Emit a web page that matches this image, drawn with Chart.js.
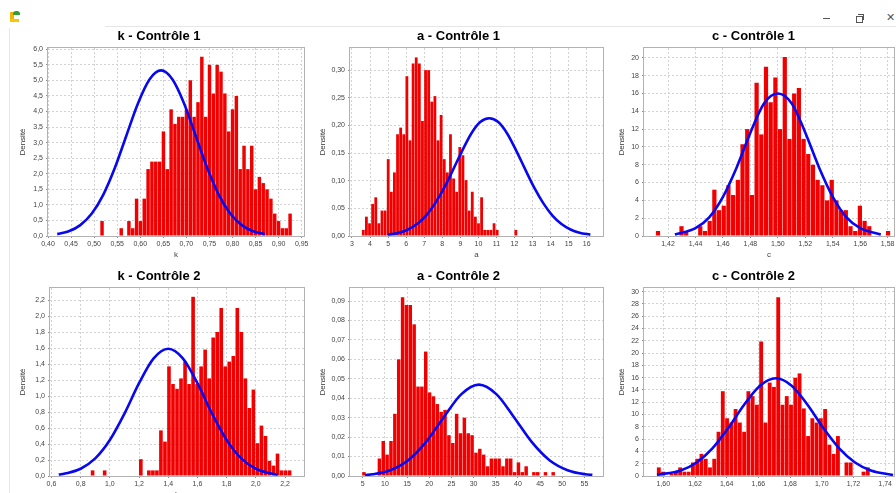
<!DOCTYPE html>
<html><head><meta charset="utf-8">
<script src="https://cdn.jsdelivr.net/npm/chart.js@4.4.1/dist/chart.umd.min.js"></script>
<style>
html,body{margin:0;padding:0;background:#fff;width:896px;height:493px;overflow:hidden;position:relative;font-family:"Liberation Sans",Arial,sans-serif}
canvas{position:absolute}
.ch{position:absolute}
</style></head><body>
<div class="ch" style="left:105px;top:26px;width:791px;height:1px;background:#e6e6e6"></div>
<div class="ch" style="left:9px;top:28px;width:1px;height:465px;background:#e6e6e6"></div>
<div class="ch" style="left:10px;top:12px;width:4px;height:10px;background:#f2b400"></div>
<div class="ch" style="left:10px;top:19px;width:9px;height:3px;background:#f5c800"></div>
<div class="ch" style="left:13px;top:11px;width:7px;height:4px;background:#2e9e3a;border-radius:3px 3px 0 0"></div>
<div class="ch" style="left:823px;top:18px;width:7px;height:1px;background:#555"></div>
<div class="ch" style="left:856px;top:16px;width:5px;height:5px;border:1px solid #555"></div>
<div class="ch" style="left:858px;top:14px;width:5px;height:5px;border-top:1px solid #555;border-right:1px solid #555"></div>
<div class="ch" style="left:886px;top:11px;font:11px 'DejaVu Sans';color:#555">✕</div>
<script>
// ---------- data ----------
const k1Range = [0.513, 0.929];
const k1Density = [0.48,0,0,0,0,0.25,0,0.48,0.25,1.2,
  0.48,1.2,2.15,2.39,2.39,2.39,3.36,2.15,4.07,3.6,
  3.83,3.83,4.07,5.0,3.83,4.3,5.76,3.83,5.5,4.58,
  5.5,5.28,4.58,3.36,4.07,4.5,2.15,2.9,2.15,2.9,
  1.5,1.9,1.7,1.5,1.2,0.72,0.48,0.25,0.25,0.72];
const k1CurveX = [0.42,0.445,0.47,0.495,0.52,0.545,0.57,0.595,0.62,0.645,0.67,0.695,0.72,0.745,0.77,0.795,0.82,0.845,0.87];
const k1CurveY = [0.06,0.15,0.35,0.72,1.33,2.19,3.23,4.26,5.03,5.32,5.03,4.26,3.23,2.19,1.33,0.72,0.35,0.15,0.06];
const k1XTicks = [0.40,0.45,0.50,0.55,0.60,0.65,0.70,0.75,0.80,0.85,0.90,0.95];
const k1YTicks = [0,0.5,1,1.5,2,2.5,3,3.5,4,4.5,5,5.5,6];

const a1Range = [3.54, 12.16];
const a1Density = [0.011,0.035,0.023,0.058,0.07,0.023,0.046,0.046,0.139,0.08,
  0.115,0.184,0.196,0.184,0.289,0.173,0.312,0.323,0.312,0.208,
  0.30,0.30,0.243,0.253,0.173,0.219,0.139,0.115,0.184,0.104,
  0.08,0.161,0.146,0.101,0.046,0.08,0.035,0.023,0.07,0.011,
  0.011,0.011,0.023,0.011,0,0,0,0,0,0.011];
const a1CurveX = [5.0,5.6,6.1,6.6,7.1,7.6,8.1,8.6,9.1,9.6,10.1,10.6,11.1,11.6,12.1,12.6,13.1,13.6,14.1,14.6,15.1,15.6,16.2];
const a1CurveY = [0.0024,0.006,0.0118,0.0217,0.037,0.059,0.087,0.120,0.154,0.185,0.206,0.213,0.206,0.185,0.154,0.120,0.087,0.059,0.037,0.0217,0.0118,0.006,0.0024];
const a1XTicks = [3,4,5,6,7,8,9,10,11,12,13,14,15,16];
const a1YTicks = [0,0.05,0.10,0.15,0.20,0.25,0.30];

const c1Range = [1.411, 1.582];
const c1Density = [0.56,0,0,0,0,1.1,0.56,0,0,1.1,
  0.56,1.7,5.2,2.9,3.4,5.7,4.6,6.3,10.3,12,
  4.6,17.2,11.4,19,15,17.8,12,20.1,10.9,16,
  16.6,10.9,9.2,8,6.3,5.7,4,6.3,4,2.9,
  2.9,1.1,0.56,3.4,1.7,1.1,0,0,0,0.56];
const c1CurveX = [1.425,1.44,1.45,1.46,1.47,1.48,1.49,1.50,1.51,1.52,1.53,1.54,1.55,1.56,1.575];
const c1CurveY = [0.18,0.88,2.1,4.4,7.7,11.6,14.9,16.0,14.9,11.6,7.7,4.4,2.1,0.88,0.18];
const c1XTicks = [1.42,1.44,1.46,1.48,1.50,1.52,1.54,1.56,1.58];
const c1YTicks = [0,2,4,6,8,10,12,14,16,18,20];

const k2Range = [0.868, 2.245];
const k2Density = [0.07,0,0,0.07,0,0,0,0,0,0,
  0,0,0.21,0,0.07,0.07,0.07,0.57,0.43,1.37,
  1.15,1.09,1.22,1.43,1.15,2.24,1.15,1.37,1.58,1.22,
  1.73,1.8,2.1,1.37,1.43,1.5,2.1,1.8,1.22,0.85,
  1.08,0.41,0.63,0.5,0.19,0.13,0.28,0.07,0.07,0.07];
const k2CurveX = [0.65,0.7,0.8,0.9,1.0,1.1,1.2,1.3,1.4,1.5,1.6,1.7,1.8,1.9,2.0,2.1,2.15];
const k2CurveY = [0.018,0.033,0.091,0.22,0.45,0.78,1.16,1.47,1.59,1.47,1.16,0.78,0.45,0.22,0.091,0.033,0.018];
const k2XTicks = [0.6,0.8,1.0,1.2,1.4,1.6,1.8,2.0,2.2];
const k2YTicks = [0,0.2,0.4,0.6,0.8,1.0,1.2,1.4,1.6,1.8,2.0,2.2];

const a2Range = [4.84, 48.4];
const a2Density = [0.002,0,0,0,0.009,0.018,0.011,0.018,0.032,0.06,
  0.092,0.088,0.088,0.078,0.046,0.046,0.064,0.043,0.041,0.037,
  0.033,0.034,0.021,0.017,0.032,0.022,0.03,0.022,0.021,0.012,
  0.014,0.011,0.005,0.009,0.009,0.009,0.005,0.009,0.009,0.002,
  0.007,0.002,0.005,0,0.002,0.002,0,0.002,0,0.002];
const a2CurveX = [5.5,7.2,11.2,15.2,19.2,23.2,27.2,31.2,35.2,39.2,43.2,47.2,51.2,55.2,56.8];
const a2CurveY = [0.0005,0.0009,0.003,0.008,0.0173,0.030,0.042,0.047,0.042,0.030,0.0173,0.008,0.003,0.0009,0.0006];
const a2XTicks = [5,10,15,20,25,30,35,40,45,50,55];
const a2YTicks = [0,0.01,0.02,0.03,0.04,0.05,0.06,0.07,0.08,0.09];

const c2Range = [1.5958, 1.7304];
const c2Density = [1.4,0.7,0,0.35,0.7,1.4,0.7,0.7,2.2,2.8,
  3.6,2.8,1.4,2.8,7.2,13.8,9.4,8.7,10.9,8.7,
  7.2,13.8,13.0,11.6,21.9,8.7,15.2,14.5,29.1,11.6,
  13.0,11.6,16.0,16.7,11.0,6.5,9.4,8.7,9.4,10.9,
  5.1,3.6,6.5,0,2.2,2.2,0,0,0.7,1.4];
const c2CurveX = [1.596,1.611,1.621,1.631,1.641,1.651,1.661,1.671,1.681,1.691,1.701,1.711,1.721,1.731,1.745];
const c2CurveY = [0.2,0.9,2.2,4.5,7.8,11.6,14.7,15.9,14.7,11.6,7.8,4.5,2.2,0.9,0.16];
const c2XTicks = [1.60,1.62,1.64,1.66,1.68,1.70,1.72,1.74];
const c2YTicks = [0,2,4,6,8,10,12,14,16,18,20,22,24,26,28,30];

// ---------- layout / style ----------
const F = "'Liberation Sans', Arial, sans-serif";
const panels = [
  {title:'k - Contrôle 1', xTitle:'k', range:k1Range, dens:k1Density, cx:k1CurveX, cy:k1CurveY, xt:k1XTicks, yt:k1YTicks, xd:2, yd:1, xMin:0.40, xMax:0.955, yMax:6.04, top:24, boxL:14, plotL:48, plotR:304},
  {title:'a - Contrôle 1', xTitle:'a', range:a1Range, dens:a1Density, cx:a1CurveX, cy:a1CurveY, xt:a1XTicks, yt:a1YTicks, xd:0, yd:2, xMin:2.89, xMax:16.9, yMax:0.34, top:24, boxL:314, plotL:350, plotR:603},
  {title:'c - Contrôle 1', xTitle:'c', range:c1Range, dens:c1Density, cx:c1CurveX, cy:c1CurveY, xt:c1XTicks, yt:c1YTicks, xd:2, yd:0, xMin:1.4025, xMax:1.5846, yMax:21.1, top:24, boxL:613, plotL:644, plotR:894},
  {title:'k - Contrôle 2', xTitle:'k', range:k2Range, dens:k2Density, cx:k2CurveX, cy:k2CurveY, xt:k2XTicks, yt:k2YTicks, xd:1, yd:1, xMin:0.59, xMax:2.33, yMax:2.35, top:264, boxL:14, plotL:50, plotR:304},
  {title:'a - Contrôle 2', xTitle:'a', range:a2Range, dens:a2Density, cx:a2CurveX, cy:a2CurveY, xt:a2XTicks, yt:a2YTicks, xd:0, yd:2, xMin:2.13, xMax:59.2, yMax:0.0967, top:264, boxL:314, plotL:350, plotR:603},
  {title:'c - Contrôle 2', xTitle:'c', range:c2Range, dens:c2Density, cx:c2CurveX, cy:c2CurveY, xt:c2XTicks, yt:c2YTicks, xd:2, yd:0, xMin:1.5878, xMax:1.7456, yMax:30.6, top:264, boxL:613, plotL:644, plotR:894}
];

function fmt(v, d){ return Number(v).toFixed(d).replace('.', ','); }
function binCenters(range, n){ const w=(range[1]-range[0])/n; const out=[]; for(let i=0;i<n;i++) out.push(range[0]+(i+0.5)*w); return out; }

const frame = {id:'frame', afterDraw(ch){
  const a = ch.chartArea, ctx = ch.ctx;
  ctx.save(); ctx.strokeStyle = '#b2b2b2'; ctx.lineWidth = 1;
  ctx.strokeRect(Math.round(a.left)-0.5, Math.round(a.top)-0.5, Math.round(a.right)-Math.round(a.left)+1, Math.round(a.bottom)-Math.round(a.top)+1);
  ctx.restore();
}};

panels.forEach(p => {
  const c = document.createElement('canvas');
  const left = p.boxL - 2;
  const width = Math.round(p.plotR + 12 - left);
  c.width = width; c.height = 240;
  c.style.left = left + 'px'; c.style.top = p.top + 'px';
  c.style.width = width + 'px'; c.style.height = '240px';
  document.body.appendChild(c);
  const xs = binCenters(p.range, p.dens.length);
  const gridCommon = {color:'#d2d2d2', tickColor:'#8a8a8a', tickLength:2, drawTicks:true, offset:false};
  new Chart(c, {
    type:'bar',
    data:{datasets:[
      {type:'line', data:p.cx.map((x,i)=>({x:x, y:p.cy[i]})), borderColor:'#0808f0', borderWidth:2.6, pointRadius:0, fill:false, cubicInterpolationMode:'monotone', order:1},
      {type:'bar', data:xs.map((x,i)=>({x:x, y:p.dens[i]})), backgroundColor:'#f00000', borderWidth:0, barPercentage:0.9, categoryPercentage:1, order:2}
    ]},
    options:{
      responsive:false, animation:false,
      layout:{padding:{left:2, right:12, top:0, bottom:0}},
      plugins:{
        legend:{display:false}, tooltip:{enabled:false},
        title:{display:true, text:p.title, color:'#000', font:{family:F, size:13, weight:'bold'}, padding:{top:4.2, bottom:4.2}}
      },
      scales:{
        x:{type:'linear', min:p.xMin, max:p.xMax, offset:false, grid:gridCommon, border:{display:false, dash:[2,2]},
           ticks:{autoSkip:false, maxRotation:0, color:'#444', font:{family:F, size:7}, padding:2, callback:v=>fmt(v,p.xd)},
           title:{display:true, text:p.xTitle, color:'#444', font:{family:F, size:8}, padding:{top:0, bottom:4}},
           afterBuildTicks:s=>{ s.ticks = p.xt.map(v=>({value:v})); },
           afterFit:s=>{ s.height = 28; }},
        y:{type:'linear', min:0, max:p.yMax, grid:gridCommon, border:{display:false, dash:[2,2]},
           ticks:{autoSkip:false, color:'#444', font:{family:F, size:7}, padding:3, callback:v=>fmt(v,p.yd)},
           title:{display:true, text:'Densité', color:'#333', font:{family:F, size:8}, padding:{top:4, bottom:4}},
           afterBuildTicks:s=>{ s.ticks = p.yt.map(v=>({value:v})); },
           afterFit:s=>{ s.width = p.plotL - p.boxL; }}
      }
    },
    plugins:[frame]
  });
});
</script>
</body></html>
